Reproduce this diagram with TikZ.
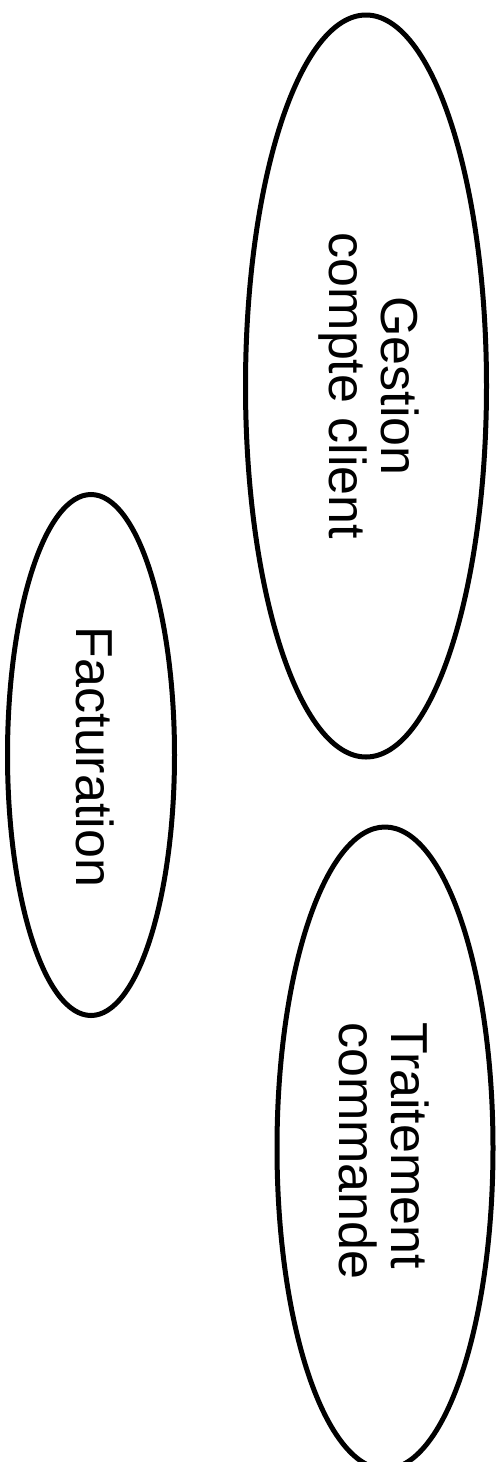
\documentclass[tikz,border=0pt]{standalone}
\usepackage{fontspec}
\setmainfont{Liberation Sans}
\usetikzlibrary{shapes.geometric}
\begin{document}
\begin{tikzpicture}[x=1pt,y=-1pt,
  proc/.style={draw=black, line width=5pt, ellipse, inner sep=0pt, fill=none},
  lbl/.style={rotate=-90, inner sep=0pt, font=\fontsize{52}{52}\selectfont}]
\useasboundingbox[fill=white] (0,0) rectangle (503,1462);
\node[proc, minimum width=241pt, minimum height=742pt] (e1) at (366,386) {};
\node[proc, minimum width=167pt, minimum height=521pt] (e2) at (91,755) {};
\node[proc, minimum width=216pt, minimum height=642pt] (e3) at (385,1148) {};
\node[lbl, align=center] (t1) at (369,386) {Gestion\\compte client};
\node[lbl] (t2) at (95,757) {Facturation};
\node[lbl, align=left, anchor=west] (t3) at (384,1022) {Traitement\\commande};
\end{tikzpicture}
\end{document}
